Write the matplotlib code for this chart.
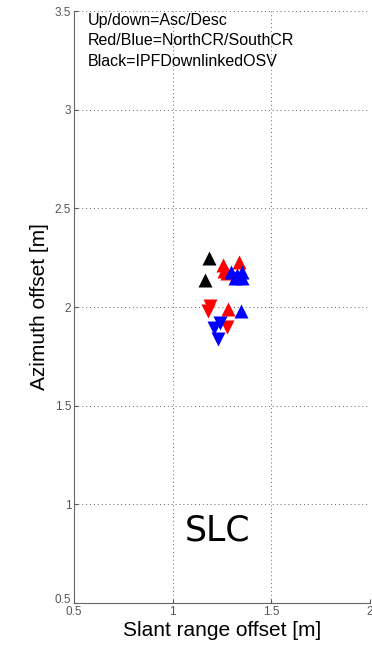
import matplotlib
matplotlib.use("Agg")
import matplotlib.pyplot as plt
import matplotlib.transforms as mtransforms

plt.rcParams["font.family"] = ["Liberation Sans", "DejaVu Sans"]

# ascending (up triangles) / descending (down triangles) passes
north_asc_x = [1.253, 1.260, 1.273, 1.337, 1.281]
north_asc_y = [2.213, 2.180, 2.172, 2.229, 1.990]
north_desc_x = [1.189, 1.180, 1.273]
north_desc_y = [2.005, 1.980, 1.900]
south_asc_x = [1.298, 1.327, 1.349, 1.315, 1.349, 1.346]
south_asc_y = [2.179, 2.162, 2.179, 2.147, 2.147, 1.980]
south_desc_x = [1.239, 1.210, 1.231]
south_desc_y = [1.917, 1.892, 1.836]
osv_asc_x = [1.184, 1.165]
osv_asc_y = [2.248, 2.137]

xticks = [0.5, 1, 1.5, 2]
yticks = [0.5, 1, 1.5, 2, 2.5, 3, 3.5]

fig = plt.figure(figsize=(3.72, 6.47), dpi=100)
ax = fig.add_axes([74 / 372, 44 / 647, 296 / 372, 592 / 647])

ms = 10
ax.plot(osv_asc_x, osv_asc_y, "^", color="black", ms=ms, mec="none")
ax.plot(north_asc_x, north_asc_y, "^", color="red", ms=ms, mec="none")
ax.plot(north_desc_x, north_desc_y, "v", color="red", ms=ms, mec="none")
ax.plot(south_asc_x, south_asc_y, "^", color="blue", ms=ms, mec="none")
ax.plot(south_desc_x, south_desc_y, "v", color="blue", ms=ms, mec="none")

ax.set_xlim(0.5, 2)
ax.set_ylim(0.5, 3.5)
ax.set_xticks(xticks)
ax.set_yticks(yticks)
ax.set_xticklabels(["0.5", "1", "1.5", "2"])
ax.set_yticklabels(["0.5", "1", "1.5", "2", "2.5", "3", "3.5"])
ax.tick_params(direction="in", length=3, labelsize=8.5, colors="#555555",
               labelcolor="#555555", pad=2)
ax.grid(True, linestyle=(0, (1, 3)), color="#666666", linewidth=0.7)
for side in ["top", "right"]:
    ax.spines[side].set_visible(False)
for side in ["left", "bottom"]:
    ax.spines[side].set_color("#666666")

# lift the bottom y label a little so it clears the x label at the corner
lbl = ax.get_yticklabels()[0]
lbl.set_transform(lbl.get_transform() + mtransforms.ScaledTranslation(0, 3 / 72, fig.dpi_scale_trans))

ax.set_xlabel("Slant range offset [m]", fontsize=15, labelpad=2)
ax.set_ylabel("Azimuth offset [m]", fontsize=15, labelpad=4)

ax.text(0.048, 0.997, "Up/down=Asc/Desc\nRed/Blue=NorthCR/SouthCR\nBlack=IPFDownlinkedOSV",
        transform=ax.transAxes, va="top", ha="left", fontsize=11.5, linespacing=1.45)
ax.text(1.229, 0.865, "SLC", fontsize=25, ha="center", va="center",
        family=["DejaVu Sans"])

fig.savefig("out.png", dpi=100)
